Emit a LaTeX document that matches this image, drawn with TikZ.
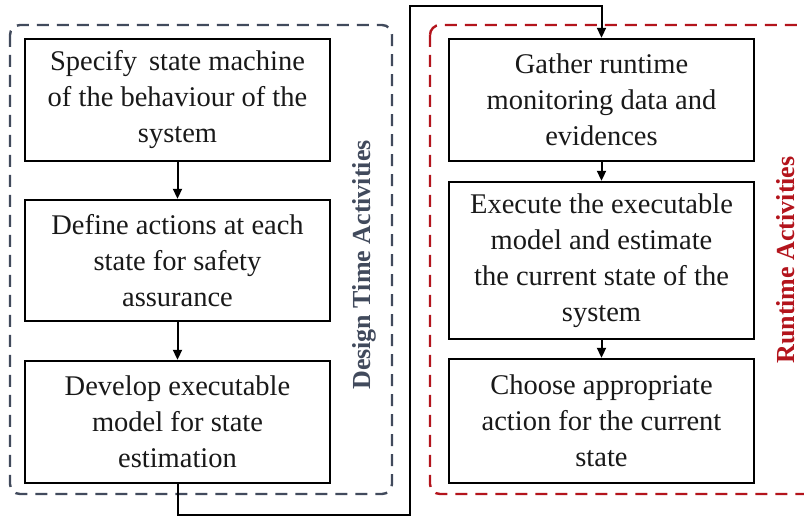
\documentclass[tikz,border=0pt]{standalone}
\usepackage{fontspec}
\setmainfont{Liberation Serif}[Ligatures=TeX]
\usetikzlibrary{arrows.meta}
\definecolor{designgray}{HTML}{414A5C}
\definecolor{runred}{HTML}{B3141C}
\begin{document}
\begin{tikzpicture}[x=1pt,y=-1pt,
  stepbox/.style={draw=black,line width=2.4pt,minimum width=305pt,align=center,
    inner sep=0pt,text=black!90,font=\rmfamily\fontsize{28.5}{36}\selectfont},
  group/.style={line width=2.4pt,dash pattern=on 12pt off 8pt,rounded corners=10pt},
  flow/.style={line width=2pt,-{Triangle[length=10pt,width=9pt]}},
  grouplabel/.style={rotate=90,font=\rmfamily\fontsize{26}{30}\selectfont\bfseries}]
\useasboundingbox (0,0) rectangle (804,518);
% activity groups
\draw[group,draw=designgray] (10,25) rectangle (392,494);
\draw[group,draw=runred] (430,25) rectangle (816,494);
\node[grouplabel,text=designgray] (dlab) at (364,265) {Design Time Activities};
\node[grouplabel,text=runred] (rlab) at (786,260) {Runtime Activities};
% design time steps
\node[stepbox,minimum height=122pt] (d1) at (177.5,100) {Specify\, state machine\\of the behaviour of the\\system};
\node[stepbox,minimum height=121pt] (d2) at (177.5,260.5) {Define actions at each\\state for safety\\assurance};
\node[stepbox,minimum height=122pt] (d3) at (177.5,422) {Develop executable\\model for state\\estimation};
% runtime steps
\node[stepbox,minimum height=122pt] (r1) at (601.5,100) {Gather runtime\\monitoring data and\\evidences};
\node[stepbox,minimum height=157pt] (r2) at (601.5,260.5) {Execute the executable\\model and estimate\\the current state of the\\system};
\node[stepbox,minimum height=124pt] (r3) at (601.5,421) {Choose appropriate\\action for the current\\state};
% connectors
\draw[flow] (d1) -- (d2);
\draw[flow] (d2) -- (d3);
\draw[flow] (r1) -- (r2);
\draw[flow] (r2) -- (r3);
\coordinate (c1) at (177.5,515);
\coordinate (c2) at (410,515);
\coordinate (c3) at (410,6);
\coordinate (c4) at (601.5,6);
\draw[flow] (d3.south) -- (c1) -- (c2) -- (c3) -- (c4) -- (r1.north);
\end{tikzpicture}
\end{document}
